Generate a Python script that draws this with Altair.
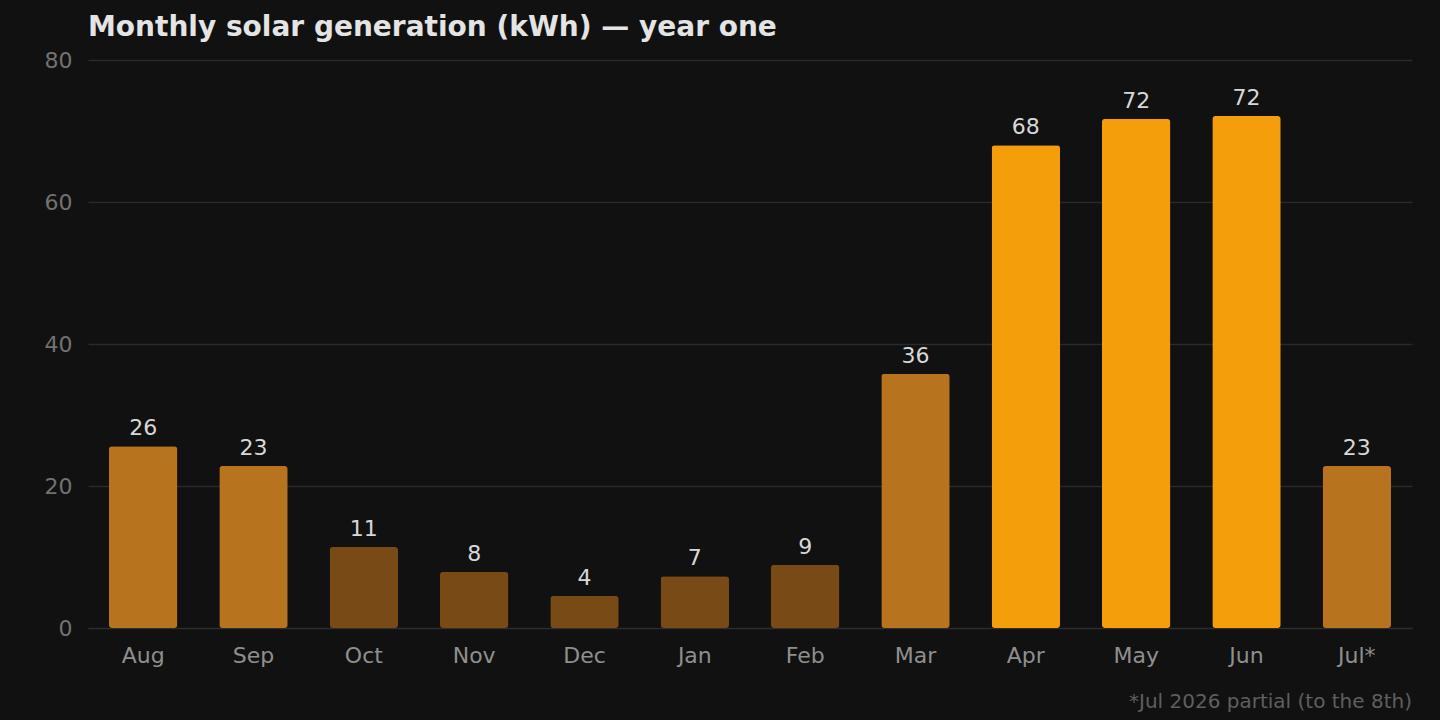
import altair as alt
import pandas as pd

months = ["Aug", "Sep", "Oct", "Nov", "Dec", "Jan", "Feb", "Mar", "Apr", "May", "Jun", "Jul*"]
kwh = [25.6, 22.8, 11.4, 7.9, 4.5, 7.3, 8.9, 35.8, 68.0, 71.7, 72.1, 22.8]
tiers = ["mid", "mid", "low", "low", "low", "low", "low", "mid", "high", "high", "high", "mid"]
tier_names = ["low", "mid", "high"]
tier_colors = ["#774A16", "#B8731F", "#F59E0B"]
y_ticks = [0, 20, 40, 60, 80]
title_text = "Monthly solar generation (kWh) \u2014 year one"
footnote = "*Jul 2026 partial (to the 8th)"

df = pd.DataFrame({"month": months, "kwh": kwh, "tier": tiers,
                   "label": [str(round(v)) for v in kwh]})
W, H = 1324, 568
FONT = "DejaVu Sans"

x = alt.X("month:N", sort=months, title=None,
          scale=alt.Scale(paddingInner=0.38, paddingOuter=0.19),
          axis=alt.Axis(labelAngle=0, labelFontSize=22, labelColor="#8f8f8f",
                        labelFont=FONT, ticks=False, domain=True, domainColor="#2e2e2e",
                        labelPadding=17, grid=False))
y = alt.Y("kwh:Q", title=None, scale=alt.Scale(domain=[0, 80], nice=False),
          axis=alt.Axis(values=y_ticks, labelFontSize=22, labelColor="#727272", labelFont=FONT,
                        ticks=False, domain=False, gridColor="#2a2a2a", gridWidth=1.5,
                        labelPadding=16))

bars = alt.Chart(df).mark_bar(cornerRadius=3).encode(
    x=x, y=y,
    color=alt.Color("tier:N", scale=alt.Scale(domain=tier_names, range=tier_colors), legend=None),
)
labels = alt.Chart(df).mark_text(dy=-6, baseline="bottom", fontSize=22, color="#d8d8d8",
                                 font=FONT).encode(
    x=alt.X("month:N", sort=months), y="kwh:Q", text="label:N")

foot = alt.Chart(pd.DataFrame({"t": [footnote]})).mark_text(
    align="right", baseline="alphabetic", fontSize=20, color="#5f5f5f", font=FONT
).encode(x=alt.value(W), y=alt.value(H + 80), text="t:N")

chart = alt.layer(bars, labels, foot).properties(
    width=W, height=H,
    background="#111111",
    padding={"left": 88, "top": 60, "right": 28, "bottom": 92},
    autosize=alt.AutoSizeParams(type="none"),
    title=alt.TitleParams(title_text, anchor="start", fontSize=28, fontWeight="bold",
                          color="#e4e4e4", font=FONT, offset=7, frame="group"),
).configure_view(stroke=None)

chart.save("out.html", embed_options={"renderer": "svg", "actions": False})
